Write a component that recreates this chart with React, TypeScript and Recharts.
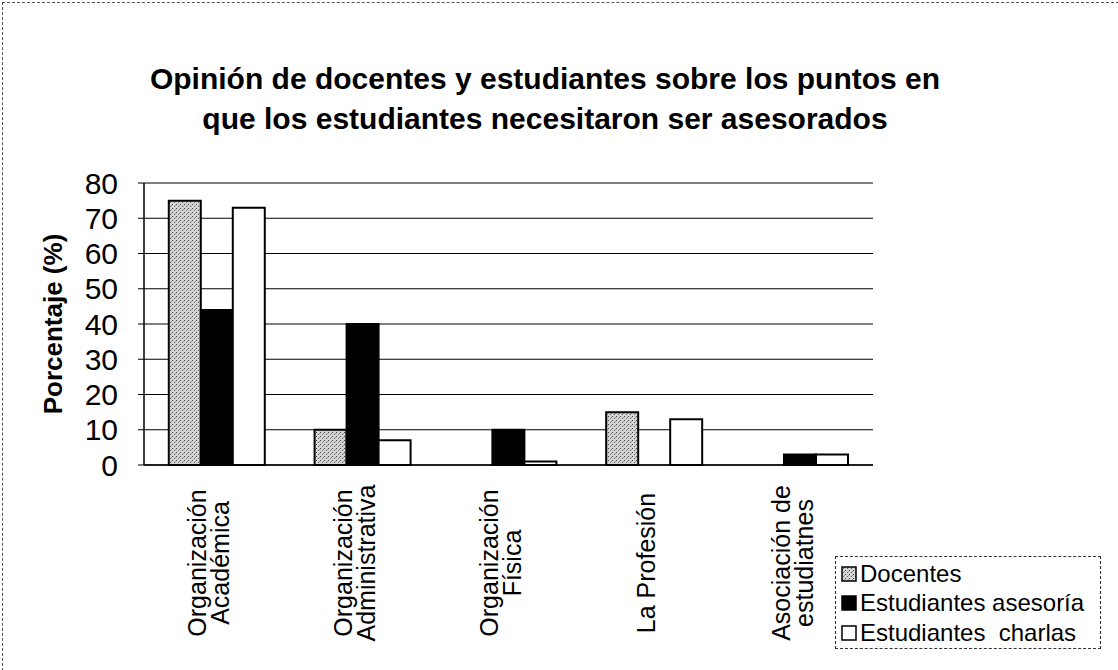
import { BarChart, Bar, XAxis, YAxis, CartesianGrid, Legend } from 'recharts';

const categories = [
  'Organización\nAcadémica',
  'Organización\nAdministrativa',
  'Organización\nFísica',
  'La Profesión',
  'Asociación de\nestudiatnes',
];
const docentes = [75, 10, 0, 15, 0];
const asesoria = [44, 40, 10, 0, 3];
const charlas = [73, 7, 1, 13, 3];
const yTicks = [0, 10, 20, 30, 40, 50, 60, 70, 80];

const seriesNames = ['Docentes', 'Estudiantes asesoría', 'Estudiantes  charlas'];

const FONT = '"Liberation Sans", Arial, Helvetica, sans-serif';

const data = categories.map((name, i) => ({
  name,
  docentes: docentes[i],
  asesoria: asesoria[i],
  charlas: charlas[i],
}));

const CategoryTick = ({ x, y, payload }: any) => {
  const lines = String(payload.value).split('\n');
  const spacing = 23;
  return (
    <g transform={`translate(${x - 8},${y + 98}) rotate(-90)`}>
      {lines.map((line, i) => (
        <text
          key={i}
          x={0}
          y={(i - (lines.length - 1) / 2) * spacing}
          textAnchor="middle"
          dominantBaseline="central"
          fontFamily={FONT}
          fontSize={25}
          fill="#000"
        >
          {line}
        </text>
      ))}
    </g>
  );
};

// keep legend rows in series order (recharts sorts by name otherwise)
const LegendBox = ({ payload }: any) => {
  const items = [...(payload || [])].sort(
    (a: any, b: any) => seriesNames.indexOf(a.value) - seriesNames.indexOf(b.value)
  );
  return (
    <div
      style={{
        width: 266,
        height: 93,
        border: '1px dashed #333',
        background: '#fff',
        fontFamily: FONT,
        fontSize: 24,
        paddingTop: 2,
        boxSizing: 'border-box',
      }}
    >
      {items.map((p: any, i: number) => (
        <div key={i} style={{ display: 'flex', alignItems: 'center', height: 29.5, paddingLeft: 5, whiteSpace: 'pre' }}>
          <svg width={16} height={16} style={{ marginRight: 3 }}>
            <rect x={1} y={1} width={14} height={14} fill={p.color} stroke="#000" strokeWidth={1.5} />
          </svg>
          <span>{p.value}</span>
        </div>
      ))}
    </div>
  );
};

export default function App() {
  return (
    <div
      style={{
        position: 'absolute',
        left: 0,
        top: 0,
        width: 1118,
        height: 670,
        background: '#fff',
        overflow: 'hidden',
      }}
    >
      <div
        style={{
          position: 'absolute',
          left: 2,
          top: 2,
          width: 1116,
          height: 668,
          borderTop: '1px dashed #555',
          borderLeft: '1px dashed #555',
        }}
      />
      <div
        style={{
          position: 'absolute',
          left: 0,
          top: 59,
          width: 1090,
          textAlign: 'center',
          fontFamily: FONT,
          fontWeight: 'bold',
          fontSize: 30,
          lineHeight: '40px',
          color: '#000',
        }}
      >
        Opinión de docentes y estudiantes sobre los puntos en
        <br />
        que los estudiantes necesitaron ser asesorados
      </div>
      <div
        style={{
          position: 'absolute',
          left: 53,
          top: 324,
          transform: 'translate(-50%, -50%) rotate(-90deg)',
          fontFamily: FONT,
          fontWeight: 'bold',
          fontSize: 26,
          whiteSpace: 'nowrap',
          color: '#000',
        }}
      >
        Porcentaje (%)
      </div>
      <div style={{ position: 'absolute', left: 0, top: 0 }}>
        <BarChart
          width={1118}
          height={670}
          data={data}
          margin={{ top: 183, right: 245, bottom: 5, left: 84 }}
          barCategoryGap="17%"
          barGap={0}
        >
          <defs>
            <pattern id="stipple" width={4} height={4} patternUnits="userSpaceOnUse">
              <rect x={0} y={0} width={4} height={4} fill="#d4d4d4" />
              <rect x={0} y={0} width={1} height={1} fill="#444" />
              <rect x={2} y={2} width={1} height={1} fill="#666" />
              <rect x={3} y={1} width={1} height={1} fill="#999" />
            </pattern>
          </defs>
          <CartesianGrid vertical={false} stroke="#000" strokeWidth={1} />
          <XAxis
            dataKey="name"
            interval={0}
            height={200}
            tickLine={false}
            tickSize={0}
            tickMargin={0}
            axisLine={{ stroke: '#000', strokeWidth: 1.5 }}
            tick={<CategoryTick />}
          />
          <YAxis
            domain={[0, 80]}
            ticks={yTicks}
            width={60}
            tickSize={6}
            tickMargin={20}
            interval={0}
            axisLine={{ stroke: '#000', strokeWidth: 1.5 }}
            tickLine={{ stroke: '#000' }}
            tick={{ fill: '#000', fontSize: 30, fontFamily: FONT }}
          />
          <YAxis
            yAxisId="right"
            orientation="right"
            domain={[0, 80]}
            width={0}
            tick={false}
            tickLine={false}
            axisLine={{ stroke: '#000', strokeWidth: 1 }}
          />
          <Legend
            layout="horizontal"
            verticalAlign="middle"
            align="center"
            wrapperStyle={{ left: 835, top: 556, width: 266, height: 93 }}
            content={<LegendBox />}
          />
          <Bar dataKey="docentes" name={seriesNames[0]} fill="url(#stipple)" stroke="#000" strokeWidth={2} isAnimationActive={false} />
          <Bar dataKey="asesoria" name={seriesNames[1]} fill="#000" stroke="#000" strokeWidth={2} isAnimationActive={false} />
          <Bar dataKey="charlas" name={seriesNames[2]} fill="#fff" stroke="#000" strokeWidth={2} isAnimationActive={false} />
        </BarChart>
      </div>
    </div>
  );
}
